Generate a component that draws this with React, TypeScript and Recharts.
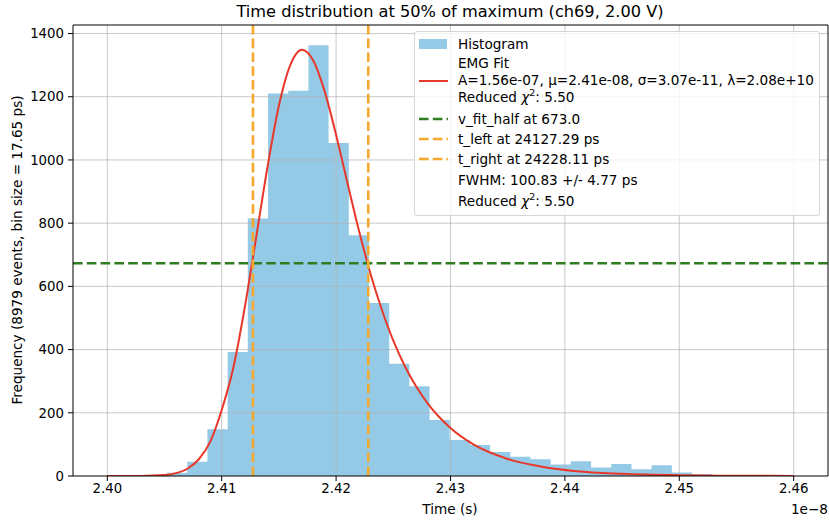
import React from 'react';
import {
  ComposedChart,
  Area,
  Line,
  XAxis,
  YAxis,
  ReferenceLine,
} from 'recharts';

const FONT = '"DejaVu Sans", Verdana, sans-serif';

// histogram bins (time in units of 1e-8 s), bin size 17.65 ps
const binStarts = [
  2.40522, 2.40699, 2.40875, 2.41052, 2.41228, 2.41405, 2.41581, 2.41758, 2.41934,
  2.42111, 2.42287, 2.42464, 2.4264, 2.42817, 2.42993, 2.4317, 2.43346, 2.43523,
  2.43699, 2.43876, 2.44052, 2.44229, 2.44405, 2.44582, 2.44758, 2.44935, 2.45111,
];
const binEnd = 2.45288;
const counts = [
  10, 45, 148, 392, 815, 1210, 1219, 1363, 1054, 762, 547, 355, 284, 177, 114, 98, 76,
  61, 53, 36, 47, 27, 38, 21, 34, 11, 6,
];

// EMG fit curve
const fitT = [
  2.4, 2.403, 2.405, 2.406, 2.407, 2.408, 2.409, 2.41, 2.411, 2.412, 2.413, 2.414,
  2.415, 2.416, 2.417, 2.418, 2.419, 2.42, 2.421, 2.422, 2.423, 2.424, 2.425, 2.426,
  2.427, 2.428, 2.43, 2.432, 2.435, 2.438, 2.441, 2.445, 2.45, 2.455, 2.46,
];
const fitY = [
  0, 0.3, 3, 9, 23, 53, 109, 209, 340, 530, 752, 977, 1172, 1301, 1349, 1315, 1217,
  1079, 926, 776, 641, 526, 428, 348, 283, 230, 152, 100, 54, 29, 15, 7, 2.4, 0.8, 0.3,
];

const xTicks = [2.4, 2.41, 2.42, 2.43, 2.44, 2.45, 2.46];
const yTicks = [0, 200, 400, 600, 800, 1000, 1200, 1400];

const vFitHalf = 673.0;
const tLeft = 2.412729;
const tRight = 2.422811;

const X_DOMAIN: [number, number] = [2.397, 2.463];
const Y_DOMAIN: [number, number] = [0, 1427];

const HIST = '#72b8de'; // drawn at 75% opacity -> #95cae6 on white
const HIST_SOLID = '#95cae6';
const RED = '#e8382b';
const GREEN = '#2e7d1e';
const ORANGE = '#f4a82e';
const GRID = '#b0b0b0';

const histData = [
  ...binStarts.map((t, i) => ({ t, count: counts[i] })),
  { t: binEnd, count: 0 },
];
const fitData = fitT.map((t, i) => ({ t, y: fitY[i] }));

const txt: React.CSSProperties = {
  position: 'absolute',
  fontFamily: FONT,
  fontSize: 13.6,
  color: '#000',
  whiteSpace: 'nowrap',
  lineHeight: '16px',
};

const Chi = () => (
  <>
    Reduced <i>χ</i>
    <sup style={{ fontSize: 9.5, verticalAlign: 0, position: 'relative', top: -6 }}>2</sup>: 5.50
  </>
);

const LegendBox = () => {
  const hx = 418;
  const tx = 457;
  const line = (y: number, color: string, dash?: string, w = 2.6) => (
    <svg
      style={{ position: 'absolute', left: hx - 414, top: y - 31 - 4 }}
      width={30}
      height={8}
    >
      <line x1={0} y1={4} x2={29} y2={4} stroke={color} strokeWidth={w} strokeDasharray={dash} />
    </svg>
  );
  const label = (y: number, content: React.ReactNode) => (
    <div style={{ ...txt, left: tx - 414, top: y - 31 - 8 }}>{content}</div>
  );
  return (
    <div
      style={{
        position: 'absolute',
        left: 414,
        top: 31,
        width: 406,
        height: 185,
        boxSizing: 'border-box',
        background: 'rgba(255,255,255,0.8)',
        border: '1px solid #d6d6d6',
        borderRadius: 3,
      }}
    >
      <div
        style={{
          position: 'absolute',
          left: hx - 414,
          top: 38 - 31,
          width: 28,
          height: 10,
          background: HIST_SOLID,
        }}
      />
      {label(42.5, 'Histogram')}
      {line(80, RED, undefined, 2)}
      {label(62.3, 'EMG Fit')}
      {label(78.8, 'A=1.56e-07, μ=2.41e-08, σ=3.07e-11, λ=2.08e+10')}
      {label(95.7, <Chi />)}
      {line(117.7, GREEN, '9.6 4.2')}
      {label(117.7, 'v_fit_half at 673.0')}
      {line(138.3, ORANGE, '9.6 4.2')}
      {label(138.3, 't_left at 24127.29 ps')}
      {line(158.3, ORANGE, '9.6 4.2')}
      {label(158.3, 't_right at 24228.11 ps')}
      {label(179, 'FWHM: 100.83 +/- 4.77 ps')}
      {label(200, <Chi />)}
    </div>
  );
};

export default function App() {
  return (
    <div style={{ position: 'absolute', left: 0, top: 0, width: 829, height: 522, background: '#fff' }}>
      <ComposedChart
        width={829}
        height={522}
        margin={{ top: 25, right: 1, left: 0, bottom: 0 }}
      >
        <XAxis
          type="number"
          dataKey="t"
          domain={X_DOMAIN}
          allowDataOverflow
          ticks={xTicks}
          tickFormatter={(v: number) => v.toFixed(2)}
          height={46}
          stroke="#000"
          tickSize={5}
          tickMargin={3}
          tick={{ fill: '#000', fontSize: 13.3, fontFamily: FONT }}
        />
        <YAxis
          type="number"
          domain={Y_DOMAIN}
          allowDataOverflow
          ticks={yTicks}
          width={73}
          stroke="#000"
          tickSize={5}
          tickMargin={4}
          tick={{ fill: '#000', fontSize: 13.3, fontFamily: FONT }}
        />
        {xTicks.map((v) => (
          <ReferenceLine key={`gx${v}`} x={v} stroke={GRID} strokeOpacity={0.7} strokeWidth={1} />
        ))}
        {yTicks.slice(1).map((v) => (
          <ReferenceLine key={`gy${v}`} y={v} stroke={GRID} strokeOpacity={0.7} strokeWidth={1} />
        ))}
        {/* semi-transparent so the grid shows through the bars */}
        <Area
          data={histData}
          dataKey="count"
          type="stepAfter"
          fill={HIST}
          fillOpacity={0.75}
          stroke="none"
          isAnimationActive={false}
        />
        <Line
          data={fitData}
          dataKey="y"
          type="monotone"
          stroke={RED}
          strokeWidth={2}
          dot={false}
          isAnimationActive={false}
        />
        <ReferenceLine y={vFitHalf} stroke={GREEN} strokeWidth={2.6} strokeDasharray="9.6 4.2" />
        <ReferenceLine x={tLeft} stroke={ORANGE} strokeWidth={2.6} strokeDasharray="9.6 4.2" />
        <ReferenceLine x={tRight} stroke={ORANGE} strokeWidth={2.6} strokeDasharray="9.6 4.2" />
        <ReferenceLine y={Y_DOMAIN[1]} stroke="#000" strokeWidth={1} />
        <ReferenceLine x={X_DOMAIN[1]} stroke="#000" strokeWidth={1} />
      </ComposedChart>

      <div style={{ ...txt, fontSize: 16.2, left: 0, width: 900, top: 3, textAlign: 'center', lineHeight: '18px' }}>
        Time distribution at 50% of maximum (ch69, 2.00 V)
      </div>
      <div style={{ ...txt, left: 0, width: 900, top: 501, textAlign: 'center' }}>Time (s)</div>
      <div style={{ ...txt, right: 1, top: 501 }}>1e−8</div>
      <div
        style={{
          ...txt,
          left: 17,
          top: 250,
          transform: 'translate(-50%, -50%) rotate(-90deg)',
        }}
      >
        Frequency (8979 events, bin size = 17.65 ps)
      </div>
      <LegendBox />
    </div>
  );
}
